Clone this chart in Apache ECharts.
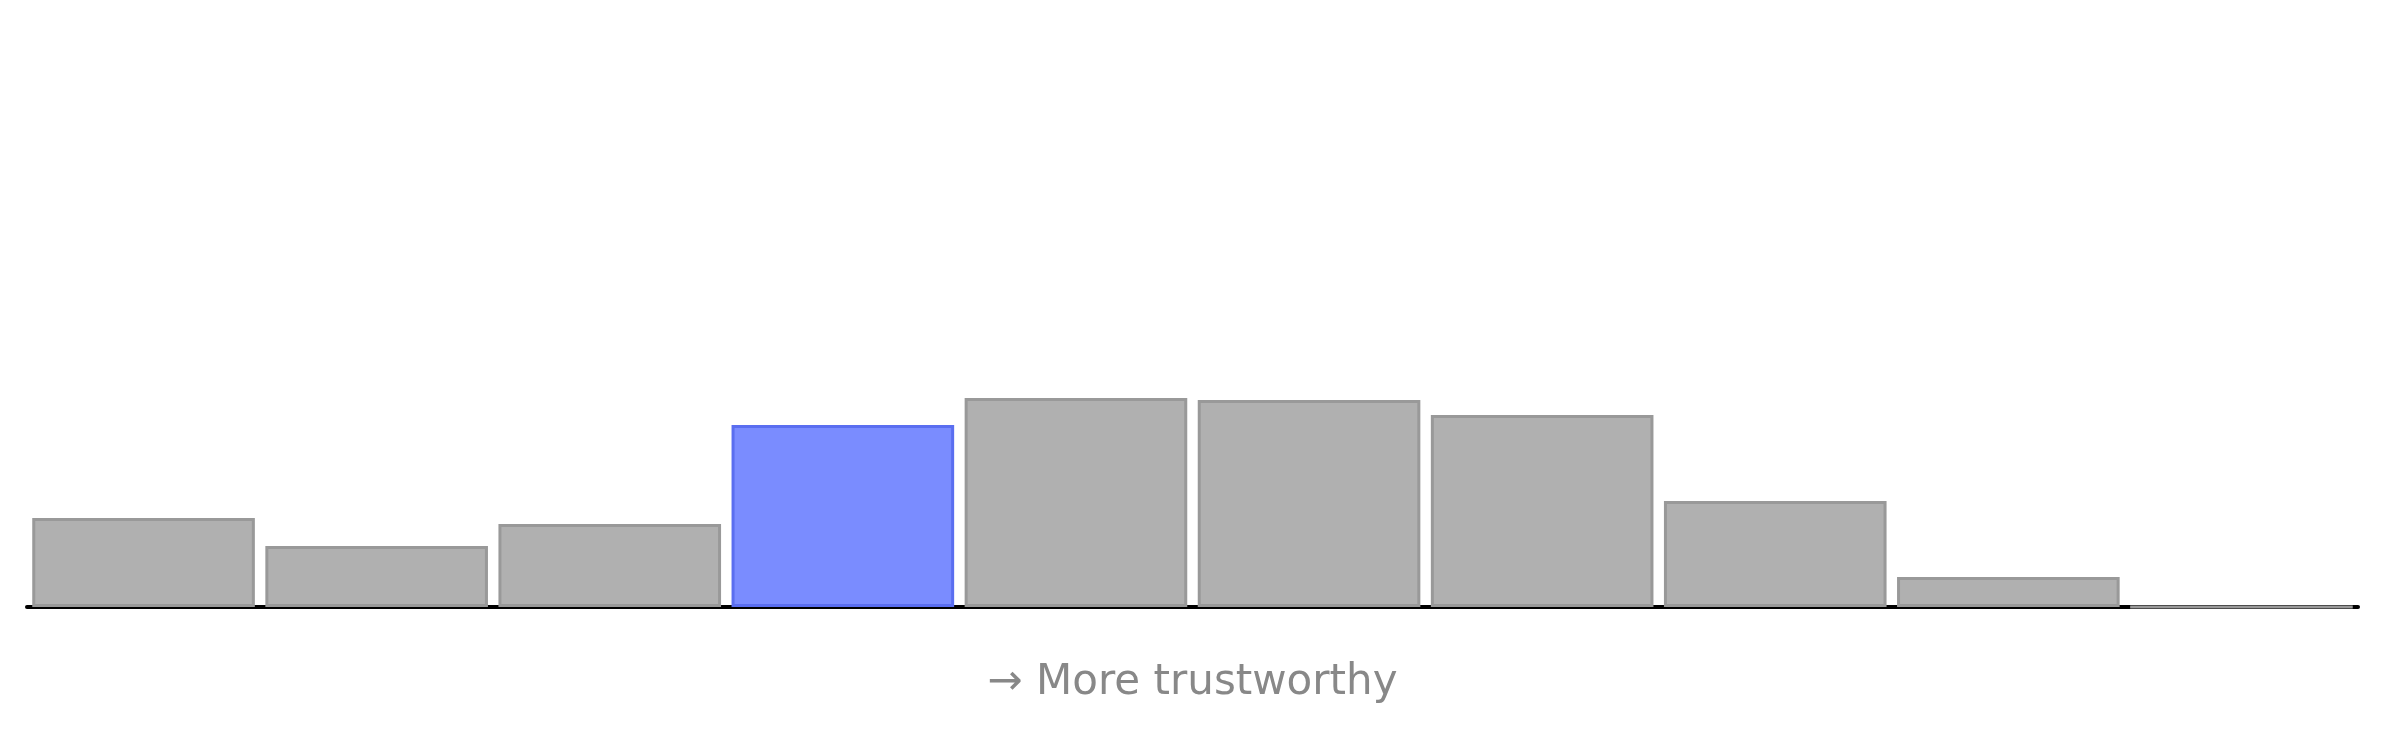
<!DOCTYPE html>
<html>
<head>
<meta charset="utf-8">
<script src="https://cdn.jsdelivr.net/npm/echarts@6/dist/echarts.min.js"></script>
<style>html,body{margin:0;padding:0;background:#fff}#chart{width:2385px;height:735px}</style>
</head>
<body>
<div id="chart"></div>
<script>
var categories = ['1', '2', '3', '4', '5', '6', '7', '8', '9', '10'];
var values = [89, 61, 83, 182, 209, 207, 192, 106, 30, 0];
var highlightIndex = 3;

var myChart = echarts.init(document.getElementById('chart'));
var option = {
	animation : false,
	grid : { left : 27, right : 27, top : 0, bottom : 128 },
	xAxis : {
		type : 'category',
		data : categories,
		axisLine : { lineStyle : { color : '#000', width : 4 } },
		axisTick : { show : false },
		axisLabel : { show : false },
		name : '\u2192 More trustworthy',
		nameLocation : 'middle',
		nameGap : 55,
		nameTextStyle : { color : '#888', fontSize : 42, fontFamily : 'DejaVu Sans' }
	},
	yAxis : {
		type : 'value',
		min : 0,
		max : 607,
		show : false
	},
	series : [ {
		type : 'bar',
		barCategoryGap : '4.5%',
		data : values.map(function(v, i) {
			return {
				value : v,
				itemStyle : i === highlightIndex
					? { color : '#7a8cff', borderColor : '#5a6ef0', borderWidth : 3 }
					: { color : '#b0b0b0', borderColor : '#999999', borderWidth : 3 }
			};
		})
	} ]
};
myChart.setOption(option);
</script>
</body>
</html>
